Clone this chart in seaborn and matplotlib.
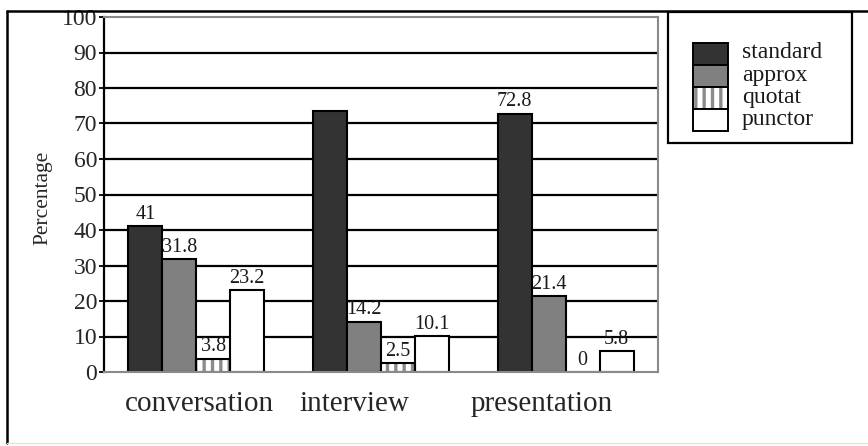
import matplotlib
matplotlib.use("Agg")
import matplotlib.pyplot as plt
import pandas as pd
import seaborn as sns
from matplotlib.patches import Rectangle
from matplotlib.lines import Line2D
from matplotlib.transforms import ScaledTranslation

# ---- data -------------------------------------------------------------
settings = ["conversation", "interview", "presentation"]
forms = ["standard", "approx", "quotat", "punctor"]
standard = [41, 73.4, 72.8]
approx = [31.8, 14.2, 21.4]
quotat = [3.8, 2.5, 0]
punctor = [23.2, 10.1, 5.8]
# bars whose value is printed above them (the tall interview bar is unlabelled)
labelled = {
    "standard": [True, False, True],
    "approx": [True, True, True],
    "quotat": [True, True, True],
    "punctor": [True, True, True],
}
y_ticks = list(range(0, 101, 10))

colors = {"standard": "#333333", "approx": "#808080",
          "quotat": "#ffffff", "punctor": "#ffffff"}
stripe_color = "#8c8c8c"

# ---- style -------------------------------------------------------------
sns.set_style("white")
plt.rcParams["font.family"] = ["Liberation Serif", "DejaVu Serif"]
plt.rcParams["hatch.linewidth"] = 2.4
plt.rcParams["text.color"] = "#1a1a1a"

values = {"standard": standard, "approx": approx,
          "quotat": quotat, "punctor": punctor}
df = pd.DataFrame(
    [(s, f, values[f][i]) for f in forms for i, s in enumerate(settings)],
    columns=["setting", "form", "pct"],
)

W, H = 868, 446
fig = plt.figure(figsize=(W / 100, H / 100), dpi=100)
ax = fig.add_axes([104 / W, 1 - 372 / H, 554 / W, 355 / H])

sns.barplot(data=df, x="setting", y="pct", hue="form", order=settings,
            hue_order=forms, palette=colors, saturation=1, width=0.735,
            edgecolor="black", linewidth=1.5, legend=False, ax=ax)

# striped bars: grey hatch inside, black outline on top
for bar in ax.containers[forms.index("quotat")]:
    bar.set_hatch("||")
    bar.set_edgecolor(stripe_color)
    bar.set_linewidth(0)
    ax.add_patch(Rectangle((bar.get_x(), bar.get_y()), bar.get_width(),
                           bar.get_height(), fill=False, edgecolor="black",
                           linewidth=1.5, zorder=bar.get_zorder() + 0.1))

# value labels
for k, form in enumerate(forms):
    for bar, v, show in zip(ax.containers[k], values[form], labelled[form]):
        if not show:
            continue
        ax.text(bar.get_x() + bar.get_width() / 2, bar.get_height() + 0.6,
                f"{v:g}", ha="center", va="bottom", fontsize=14.5)

# horizontal rules behind the bars
for t in y_ticks[1:-1]:
    ax.axhline(t, color="black", linewidth=1.6, zorder=0.5)

ax.set_ylim(0, 100)
ax.set_xlim(-0.5, 2.5)
ax.set_yticks(y_ticks)
ax.set_yticklabels([str(t) for t in y_ticks], fontsize=17)
ax.tick_params(axis="y", direction="out", length=3.5, width=1.3,
               color="black", pad=1.5, left=True)
ax.tick_params(axis="x", length=0, pad=14, labelsize=21)
ax.set_xlabel("")
ax.set_ylabel("Percentage", fontsize=15.5)
ax.yaxis.set_label_coords(-0.093, 0.49)

for lab, dx in zip(ax.get_xticklabels(), [3, -27, -24]):
    lab.set_transform(lab.get_transform()
                      + ScaledTranslation(dx / 100, 0, fig.dpi_scale_trans))

ax.spines["left"].set_color("black")
ax.spines["left"].set_linewidth(1.6)
for side in ("bottom", "right", "top"):
    ax.spines[side].set_color("#8a8a8a")
    ax.spines[side].set_linewidth(1.5)

# ---- outer frame --------------------------------------------------------
fig.add_artist(Line2D([7 / W, 7 / W], [1 - 443 / H, 1 - 11 / H],
                      color="black", linewidth=1.8, transform=fig.transFigure))
fig.add_artist(Line2D([7 / W, 1], [1 - 11 / H, 1 - 11 / H],
                      color="black", linewidth=1.8, transform=fig.transFigure))
fig.add_artist(Line2D([7 / W, 1], [1 - 443 / H, 1 - 443 / H],
                      color="#e2e2e2", linewidth=1.0, transform=fig.transFigure))

# ---- legend box ---------------------------------------------------------
fig.add_artist(Rectangle((668 / W, 1 - 143 / H), (852 - 668) / W,
                         (143 - 12) / H, transform=fig.transFigure,
                         fill=False, edgecolor="black", linewidth=1.6))
sw_x, sw_w, row0, row_h = 693, 35, 43, 22
for i, form in enumerate(forms):
    top = row0 + i * row_h
    y0 = 1 - (top + row_h) / H
    if form == "quotat":
        fig.add_artist(Rectangle((sw_x / W, y0), sw_w / W, row_h / H,
                                 transform=fig.transFigure, facecolor="white",
                                 edgecolor=stripe_color, linewidth=0,
                                 hatch="||"))
        fig.add_artist(Rectangle((sw_x / W, y0), sw_w / W, row_h / H,
                                 transform=fig.transFigure, fill=False,
                                 edgecolor="black", linewidth=1.4))
    else:
        fig.add_artist(Rectangle((sw_x / W, y0), sw_w / W, row_h / H,
                                 transform=fig.transFigure,
                                 facecolor=colors[form], edgecolor="black",
                                 linewidth=1.4))
    fig.text(742 / W, 1 - (top + 15.5) / H, form, fontsize=17,
             ha="left", va="baseline")

fig.savefig("out.png", dpi=100)
